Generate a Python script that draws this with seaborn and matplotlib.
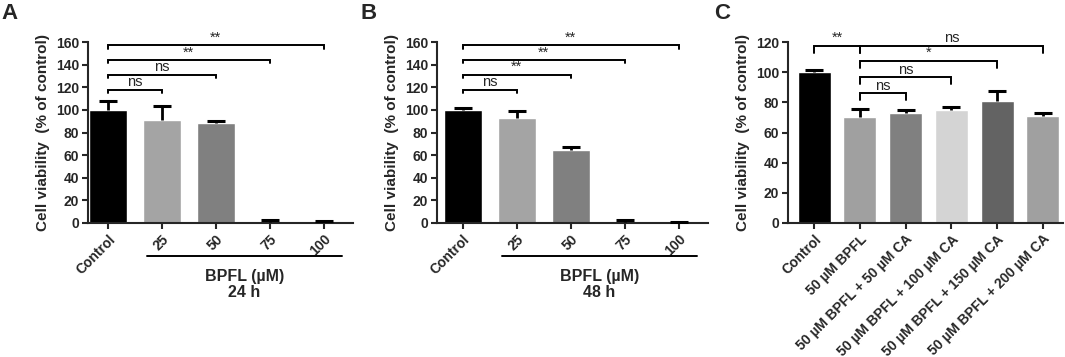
import numpy as np
import pandas as pd
import seaborn as sns
import matplotlib.pyplot as plt
from matplotlib.transforms import blended_transform_factory

#%% data
doses = ['Control', '25', '50', '75', '100']
via_24h = [100.0, 91.2, 88.4, 1.0, 1.0]
sem_24h = [8.2, 11.9, 1.7, 1.5, 0.5]
via_48h = [100.0, 92.6, 64.1, 1.0, 0.5]
sem_48h = [1.3, 6.0, 3.0, 1.4, 0.4]

groups_c = ['Control', '50 µM BPFL', '50 µM BPFL + 50 µM CA', '50 µM BPFL + 100 µM CA',
            '50 µM BPFL + 150 µM CA', '50 µM BPFL + 200 µM CA']
via_c = [100.0, 70.3, 72.9, 75.2, 80.6, 70.8]
sem_c = [1.5, 5.5, 1.7, 1.5, 7.2, 2.4]

# significance brackets: (from bar, to bar, height, label)
sig_24h = [(0, 1, 118, 'ns'), (0, 2, 131, 'ns'), (0, 3, 144, '**'), (0, 4, 157, '**')]
sig_48h = [(0, 1, 118, 'ns'), (0, 2, 131, '**'), (0, 3, 144, '**'), (0, 4, 157, '**')]
sig_c = [(0, 1, 117.5, '**'), (1, 5, 117.5, 'ns'), (1, 4, 107.5, '*'),
         (1, 3, 96.5, 'ns'), (1, 2, 86, 'ns')]

pal_ab = ['#000000', '#a4a4a4', '#808080', '#dedede', '#888888']
pal_c = ['#000000', '#a0a0a0', '#808080', '#d4d4d4', '#636363', '#a0a0a0']

#%% style
sns.set_style('ticks')
plt.rcParams['font.family'] = ['Liberation Sans', 'DejaVu Sans']
plt.rcParams['font.weight'] = 'bold'
plt.rcParams['axes.linewidth'] = 1.5

fig = plt.figure(figsize=(10.65, 3.57), dpi=100)
W, H = 1065, 357


def px_axes(x0, x1, y0=42, y1=223):
    # axes placed by pixel edges of the reference
    return fig.add_axes([x0 / W, 1 - y1 / H, (x1 - x0) / W, (y1 - y0) / H])


def draw_panel(ax, cats, vals, sems, pal, width, ymax, sigs, drop, xlim):
    df = pd.DataFrame({'group': cats, 'viability': vals})
    sns.barplot(data=df, x='group', y='viability', hue='group', palette=pal,
                legend=False, width=width, saturation=1, ax=ax, errorbar=None)
    pos = np.arange(len(cats))
    eb = ax.errorbar(pos, vals, yerr=[np.zeros(len(sems)), sems], fmt='none',
                     ecolor='black', elinewidth=2, capsize=6.5, capthick=2.2, zorder=3)
    eb[1][0].remove()  # upper error only, like GraphPad
    for i, j, y, lab in sigs:
        ax.plot([i, i, j, j], [y - drop, y, y, y - drop], color='black', lw=1.4,
                clip_on=False, solid_joinstyle='miter')
        ax.text((i + j) / 2, y + ymax * 0.004, lab, ha='center', va='bottom',
                fontsize=10.5, fontweight='normal')
    ax.set_ylim(0, ymax)
    ax.set_xlim(*xlim)
    ax.set_yticks(np.arange(0, ymax + 1, 20))
    ax.set_xlabel('')
    ax.set_ylabel('Cell viability  (% of control)', fontsize=11, fontweight='bold',
                  labelpad=4)
    ax.tick_params(width=1.5, length=4.5, labelsize=10, pad=2)
    for lbl in ax.get_yticklabels():
        lbl.set_fontweight('bold')
    ax.set_xticks(pos)
    ax.set_xticklabels(cats, rotation=45, ha='right', rotation_mode='anchor',
                       fontweight='bold', fontsize=10)
    sns.despine(ax=ax)


#%% panel A and B
for (x0, x1, left, vals, sems, sigs, hours, letter, lx) in [
        (88, 353, -0.37, via_24h, sem_24h, sig_24h, '24 h', 'A', 1),
        (437, 708, -0.48, via_48h, sem_48h, sig_48h, '48 h', 'B', 361)]:
    ax = px_axes(x0, x1)
    draw_panel(ax, doses, vals, sems, pal_ab, 0.7, 160, sigs, 3, (left, 4.54))
    tr = blended_transform_factory(ax.transData, ax.transAxes)
    ax.plot([0.72, 4.33], [-0.18, -0.18], color='black', lw=1.4, transform=tr,
            clip_on=False)
    ax.text(2.53, -0.255, 'BPFL (µM)\n' + hours, transform=tr, ha='center', va='top',
            fontsize=11.5, fontweight='bold', linespacing=1.05)
    fig.text(lx / W, 1 - 3 / H, letter, fontsize=16, fontweight='bold', va='top')

#%% panel C
axc = px_axes(788, 1063)
draw_panel(axc, groups_c, via_c, sem_c, pal_c, 0.72, 120, sig_c, 4.5, (-0.57, 5.44))
fig.text(714 / W, 1 - 3 / H, 'C', fontsize=16, fontweight='bold', va='top')

fig.savefig('out.png', dpi=100)
